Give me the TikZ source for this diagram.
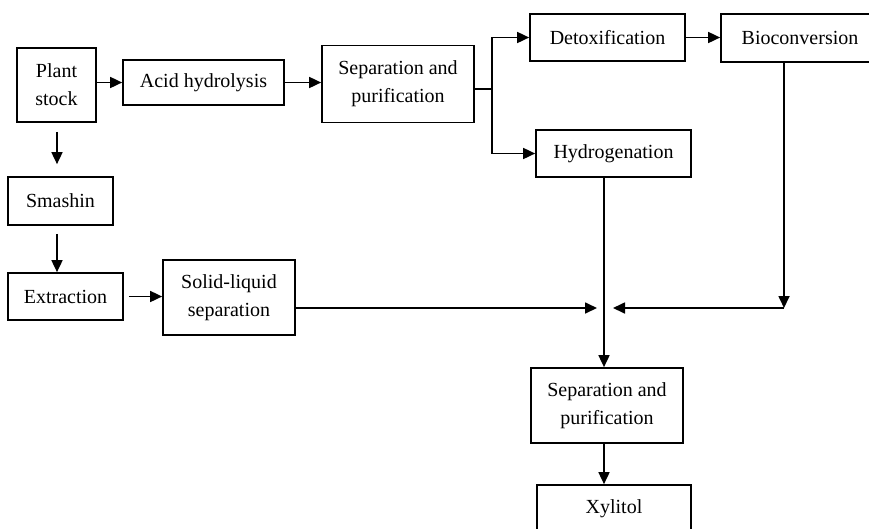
\documentclass[tikz,border=0pt]{standalone}
\usepackage{fontspec}
\setmainfont{Liberation Serif}
\usetikzlibrary{arrows.meta}

\begin{document}
\begin{tikzpicture}[x=1pt, y=-1pt, line width=1.7pt,
    box/.style={draw, rectangle, align=center, inner sep=0pt, font=\fontsize{20}{28}\selectfont},
    arr/.style={-{Triangle[length=12pt, width=11pt]}}]
    \useasboundingbox (0,0) rectangle (869,528);

    % Draw nodes
    \node[box, minimum width=79pt, minimum height=74pt] (plant) at (56.5,85) {Plant\\stock};
    \node[box, minimum width=161pt, minimum height=45pt] (acid) at (203.5,82.5) {Acid hydrolysis};
    \node[box, minimum width=152pt, minimum height=77pt] (sep1) at (398,84) {Separation and\\purification};
    \node[box, minimum width=155pt, minimum height=47pt] (detox) at (607.5,37.5) {Detoxification};
    \node[box, minimum width=158pt, minimum height=48pt] (bio) at (800,38) {Bioconversion};
    \node[box, minimum width=155pt, minimum height=47pt] (hydro) at (613.5,153.5) {Hydrogenation};
    \node[box, minimum width=105pt, minimum height=48pt] (smash) at (60.5,201) {Smashin};
    \node[box, minimum width=115pt, minimum height=47pt] (extr) at (65.5,296.5) {Extraction};
    \node[box, minimum width=132pt, minimum height=75pt] (solid) at (229,297.5) {Solid-liquid\\separation};
    \node[box, minimum width=152pt, minimum height=75pt] (sep2) at (607,405.5) {Separation and\\purification};
    \node[box, minimum width=154pt, minimum height=48pt] (xyl) at (614,509) {Xylitol};

    % Junction points
    \coordinate (br) at (492,89);
    \coordinate (bj) at (784,308);
    \coordinate (mj) at (604,308);
    \coordinate (ml) at (597,308);
    \coordinate (mr) at (613,308);

    % Draw connections
    \draw[arr] (plant.east |- acid.west) -- (acid.west);
    \draw[arr] (acid.east) -- (acid.east -| sep1.west);
    \draw (sep1.east |- br) -- (br);
    \draw[arr] (br) |- (detox.west);
    \draw[arr] (br) |- (hydro.west);
    \draw[arr] (detox.east) -- (detox.east -| bio.west);
    \draw[arr] (bio.south -| bj) -- (bj);
    \draw[arr] (bj) -- (mr);
    \draw[arr] (solid.east |- ml) -- (ml);
    \draw[arr] (hydro.south -| mj) -- (sep2.north -| mj);
    \draw[arr] (sep2.south -| mj) -- (xyl.north -| mj);
    \draw[arr, shorten <=9pt, shorten >=12pt] (plant.south -| 57,0) -- (smash.north -| 57,0);
    \draw[arr, shorten <=8pt] (smash.south -| 57,0) -- (extr.north -| 57,0);
    \draw[arr, shorten <=5pt] (extr.east) -- (extr.east -| solid.west);
\end{tikzpicture}
\end{document}
